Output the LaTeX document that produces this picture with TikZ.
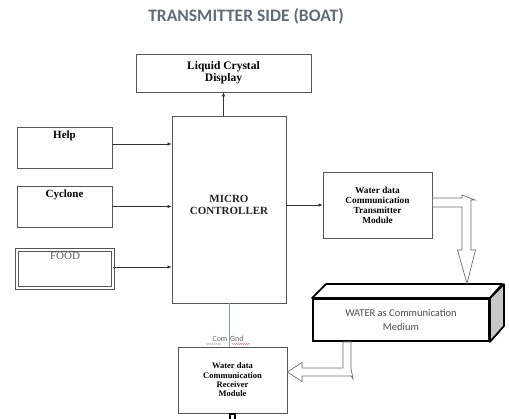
\documentclass[tikz,border=0pt]{standalone}
\usepackage{fontspec}
\setmainfont{Liberation Serif}
\newfontfamily\calfont{Carlito}
\usetikzlibrary{arrows.meta,decorations.pathmorphing}
\definecolor{boxline}{HTML}{555555}
\definecolor{titlecol}{HTML}{5F6B7A}
\definecolor{hollow}{HTML}{6E6E6E}
\definecolor{gndblue}{HTML}{7B9BE0}
\tikzset{
  blk/.style={draw=boxline, line width=0.8pt, inner sep=0pt, align=center, font=\bfseries},
  sig/.style={draw=black!80, line width=0.6pt, -{Latex[length=4pt,width=3.5pt]}},
  hol/.style={draw=hollow, line width=0.7pt, fill=white, line join=miter},
}
\begin{document}
\begin{tikzpicture}[x=1pt,y=-1pt]
\useasboundingbox (0,0) rectangle (509,419);
% title
\node[font=\calfont\bfseries\fontsize{17.5}{19}\selectfont, text=titlecol] (title) at (246,16) {TRANSMITTER SIDE (BOAT)};
% boxes
\node[blk, minimum width=175pt, minimum height=38pt, font=\bfseries\fontsize{11.5}{12}\selectfont] (lcd) at (223.5,73) {Liquid Crystal\\Display};
\node[blk, minimum width=114pt, minimum height=187pt, font=\bfseries\fontsize{11}{12}\selectfont, text=black!85] (mc) at (229,209.5) {\raisebox{17pt}{\parbox{100pt}{\centering MICRO\\CONTROLLER}}};
\node[blk] (help) at (64.5,147.5) {\parbox[c][41pt][t]{95pt}{\centering\vspace{4pt}\fontsize{11}{12}\selectfont Help}};
\node[blk] (cyc) at (64.5,206.5) {\parbox[c][41pt][t]{95pt}{\centering\vspace{4pt}\fontsize{11}{12}\selectfont Cyclone}};
\node[draw=boxline, line width=0.6pt, double, double distance=2.6pt, inner sep=0pt] (food) at (65,269) {\parbox[c][38pt][t]{96pt}{\centering\vspace{2pt}\color{black!65}\fontsize{11}{12}\selectfont FOOD}};
\node[blk, minimum width=109pt, minimum height=66pt, font=\bfseries\fontsize{9.3}{10}\selectfont] (tx) at (377.5,205) {Water data\\Communication\\Transmitter\\Module};
\node[blk, minimum width=109pt, minimum height=66pt, font=\bfseries\fontsize{8.5}{9.3}\selectfont] (rx) at (232.5,380) {Water data\\Communication\\Receiver\\Module};
% water 3D box
\node[draw=black, line width=1.8pt, minimum width=176pt, minimum height=42pt, inner sep=0pt, align=center, font=\calfont\fontsize{10.5}{14}\selectfont, text=black!70] (water) at (401,320) {WATER as Communication\\Medium};
\draw[line width=1.8pt, line join=round, fill=white] (water.north west) -- ++(14,-14) -- ++(176,0) -- (water.north east) -- cycle;
\draw[line width=1.8pt, line join=round, fill=black!22] (water.north east) -- ++(14,-14) -- ++(0,42) -- (water.south east) -- cycle;
% small square under receiver
\node[draw=black, line width=1.2pt, minimum width=5pt, minimum height=6pt, inner sep=0pt, anchor=north] (sq) at (rx.south) {};
% signal arrows
\draw[sig] (lcd.south |- mc.north) -- (lcd.south);
\draw[sig] ([yshift=3.5pt]help.east) -- ([yshift=3.5pt]help.east -| mc.west);
\draw[sig] (cyc.east) -- (cyc.east -| mc.west);
\draw[sig] ([yshift=2pt]food.east) -- ([yshift=2pt]food.east -| mc.west);
\draw[sig] (mc.east |- tx.west) -- (tx.west);
% common ground
\draw[gndblue, line width=0.6pt] (mc.south) -- (mc.south |- rx.north);
\node[font=\calfont\fontsize{8}{9}\selectfont, text=black!60, inner sep=0pt] (gnd) at (228,339) {Com\,\,Gnd};
\draw[gndblue, line width=0.5pt, decorate, decoration={snake, amplitude=0.4pt, segment length=2pt}] (206,344) -- (221,344);
\draw[red!80, line width=0.5pt, decorate, decoration={snake, amplitude=0.4pt, segment length=2pt}] (232,344) -- (250,344);
% hollow arrow transmitter -> water
\coordinate (h1) at ([yshift=7pt]tx.east);
\draw[hol] (h1) -- (462,198) -- (462,195) -- (475,200) -- (471,200) -- (471,250) -- (475.5,250) -- (467,283.5) -- (457.5,250) -- (462,250) -- (462,207) -- ([yshift=-2pt]tx.east) -- cycle;
% hollow arrow water -> receiver
\coordinate (h2) at ([yshift=8pt]rx.east);
\draw[hol] (343,342) -- (343,368) -- (302,368) -- (302,362.5) -- (h2) -- (302,381.5) -- (302,376) -- (351,376) -- (353,379) -- (351,368) -- (351,342) -- cycle;
\end{tikzpicture}
\end{document}
